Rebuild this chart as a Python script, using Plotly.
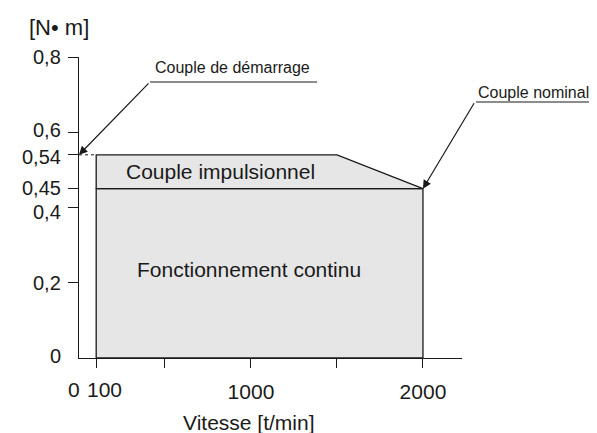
import plotly.graph_objects as go

# ---- data ----
cont_x = [100, 100, 2000, 2000, 100]
cont_y = [0, 0.45, 0.45, 0, 0]
pulse_x = [100, 100, 1500, 2000, 100]
pulse_y = [0.45, 0.54, 0.54, 0.45, 0.45]
start_x = [0, 100]
start_y = [0.54, 0.54]
nominal_point = (2000, 0.45)
starting_point = (0, 0.54)

y_tick_vals = [0, 0.2, 0.4, 0.45, 0.54, 0.6, 0.8]
y_tick_text = ["0", "0,2", "0,4", "0,45", "0,54", "0,6", "0,8"]
x_tick_vals = [100, 500, 1000, 1500, 2000]
x_tick_text = ["", "", "1000", "", "2000"]
x_extra_labels = [(0, "0"), (100, "100")]

FONT = "Liberation Sans, Arial, sans-serif"
FILL = "#e6e6e6"
INK = "#1a1a1a"

fig = go.Figure()
fig.add_trace(go.Scatter(x=cont_x, y=cont_y, fill="toself", fillcolor=FILL,
                         mode="lines", line=dict(color=INK, width=1.3),
                         hoverinfo="skip", showlegend=False))
fig.add_trace(go.Scatter(x=pulse_x, y=pulse_y, fill="toself", fillcolor=FILL,
                         mode="lines", line=dict(color=INK, width=1.3),
                         hoverinfo="skip", showlegend=False))
fig.add_trace(go.Scatter(x=start_x, y=start_y, mode="lines",
                         line=dict(color=INK, width=1, dash="dot"),
                         hoverinfo="skip", showlegend=False))

big = dict(size=21, color=INK, family=FONT)
small = dict(size=16, color=INK, family=FONT)

annotations = [
    dict(x=820, y=0.495, xref="x", yref="y", text="Couple impulsionnel",
         xanchor="center", yanchor="middle", showarrow=False, font=big),
    dict(x=990, y=0.235, xref="x", yref="y", text="Fonctionnement continu",
         xanchor="center", yanchor="middle", showarrow=False, font=big),
    # arrows
    dict(x=starting_point[0], y=starting_point[1], xref="x", yref="y", text="",
         showarrow=True, arrowhead=2, arrowsize=1.4, arrowwidth=1.2,
         arrowcolor=INK, ax=71, ay=-73, standoff=0),
    dict(x=nominal_point[0], y=nominal_point[1], xref="x", yref="y", text="",
         showarrow=True, arrowhead=2, arrowsize=1.4, arrowwidth=1.2,
         arrowcolor=INK, ax=52, ay=-87, standoff=0),
    dict(x=0.1932, y=0.9635, xref="paper", yref="paper", text="Couple de démarrage",
         xanchor="left", yanchor="middle", showarrow=False, font=small),
    dict(x=1.0366, y=0.8837, xref="paper", yref="paper", text="Couple nominal",
         xanchor="left", yanchor="middle", showarrow=False, font=small),
    # axis titles
    dict(x=-0.052, y=1.098, xref="paper", yref="paper", text="[N• m]",
         xanchor="center", yanchor="middle", showarrow=False,
         font=dict(size=22, color=INK, family=FONT)),
    dict(x=0.444, y=-0.2143, xref="paper", yref="paper", text="Vitesse [t/min]",
         xanchor="center", yanchor="middle", showarrow=False, font=big),
]

x_label_shift = {"0": -5.5, "100": 8.3}
for xv, lab in x_extra_labels:
    annotations.append(dict(x=xv, y=-0.103, xref="x", yref="paper", text=lab,
                            xshift=x_label_shift[lab], xanchor="center",
                            yanchor="middle", showarrow=False, font=big))

y_label_shift = {"0,45": 1, "0,4": -4, "0,54": -2, "0,6": 2, "0": 2}
for yv, lab in zip(y_tick_vals, y_tick_text):
    annotations.append(dict(x=-0.042, y=yv, xref="paper", yref="y", text=lab,
                            xanchor="right", yanchor="middle",
                            yshift=y_label_shift.get(lab, 0),
                            showarrow=False, font=dict(size=20, color=INK, family=FONT)))

shapes = [
    dict(type="line", xref="paper", yref="paper", x0=0.1854, x1=0.6214,
         y0=0.917, y1=0.917, line=dict(color=INK, width=1.2)),
    dict(type="line", xref="paper", yref="paper", x0=1.0366, x1=1.342,
         y0=0.8505, y1=0.8505, line=dict(color=INK, width=1.2)),
]

fig.update_layout(
    width=589, height=425,
    margin=dict(l=71, r=135, t=49, b=75),
    paper_bgcolor="white", plot_bgcolor="white",
    font=dict(family=FONT, size=21, color=INK),
    annotations=annotations, shapes=shapes,
    xaxis=dict(range=[0, 2227], showgrid=False, zeroline=False,
               showline=True, linecolor=INK, linewidth=1.3,
               tickmode="array", tickvals=x_tick_vals, ticktext=x_tick_text,
               ticks="outside", ticklen=9, tickwidth=1.2, tickcolor=INK,
               ticklabelstandoff=6,
               tickfont=dict(size=21, family=FONT, color=INK)),
    yaxis=dict(range=[0, 0.8], showgrid=False, zeroline=False,
               showline=True, linecolor=INK, linewidth=1.3,
               tickmode="array", tickvals=y_tick_vals[1:],
               ticktext=[""] * (len(y_tick_vals) - 1),
               ticks="outside", ticklen=10, tickwidth=1.2, tickcolor=INK),
)

fig.write_html("out.html")
